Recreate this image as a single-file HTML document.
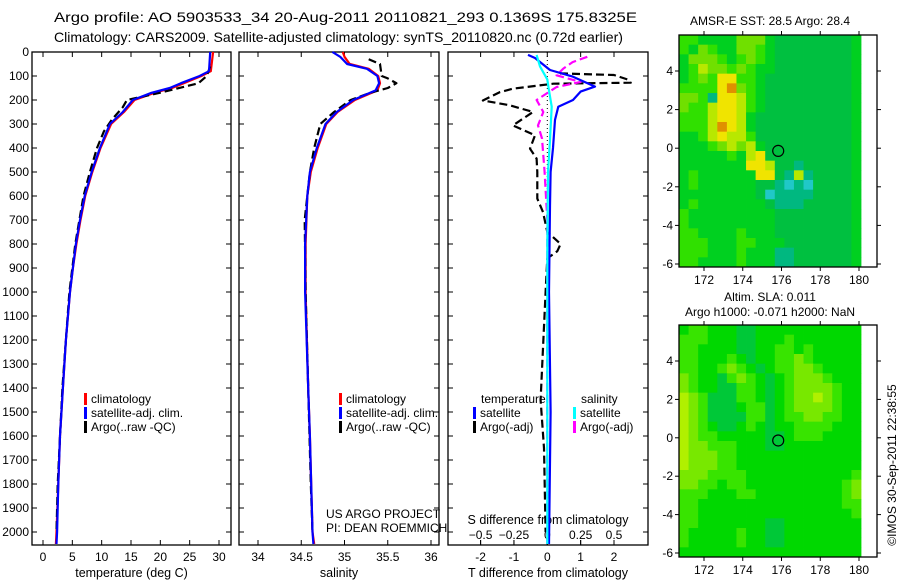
<!DOCTYPE html>
<html><head><meta charset="utf-8">
<style>
html,body{margin:0;padding:0;background:#fff;}
svg{display:block;font-family:"Liberation Sans",sans-serif;}
</style></head>
<body>
<svg id="fig" width="900" height="580" viewBox="0 0 900 580" xmlns="http://www.w3.org/2000/svg">
<text x="54" y="22" font-size="14" textLength="583" lengthAdjust="spacingAndGlyphs">Argo profile: AO 5903533_34 20-Aug-2011 20110821_293 0.1369S 175.8325E</text>
<text x="54" y="42" font-size="14" textLength="569" lengthAdjust="spacingAndGlyphs">Climatology: CARS2009. Satellite-adjusted climatology: synTS_20110820.nc (0.72d earlier)</text>
<g id="g"></g>
</svg>
<script>
// ---------- data ----------
const tDepth = [0,80,100,130,150,170,200,250,300,400,500,600,700,800,900,1000,1200,1400,1600,1800,2000,2050];
const tClim  = [29.0,28.6,27.0,24.0,22.0,19.0,15.6,13.8,11.6,9.8,8.4,7.2,6.4,5.7,5.1,4.6,3.9,3.4,2.9,2.6,2.3,2.2];
const tSat   = [28.5,28.3,26.7,23.5,21.6,18.5,15.3,13.6,11.4,9.7,8.3,7.1,6.3,5.6,5.1,4.6,3.9,3.4,2.9,2.6,2.4,2.3];
const tArgoDepth = [60,100,130,170,200,230,280,330,400,500,600,800,1000,1400,1800,2000];
const tArgo  = [28.5,27.9,26.5,19.9,14.3,13.6,11.8,10.4,9.2,8.0,6.9,5.5,4.5,3.3,2.5,2.3];

const sDepth = [0,20,50,70,100,130,160,200,250,300,400,500,600,800,1000,1400,1600,2000,2050];
const sClim  = [34.98,35.0,35.06,35.28,35.39,35.41,35.38,35.12,34.92,34.79,34.69,34.61,34.57,34.55,34.55,34.58,34.60,34.63,34.65];
const sSat   = [34.86,34.95,35.03,35.26,35.38,35.40,35.36,35.10,34.91,34.78,34.68,34.60,34.57,34.545,34.545,34.58,34.60,34.63,34.64];
const sArgoDepth = [30,50,100,110,130,150,170,200,250,300,400,500,700,1000,1400,1800,2000];
const sArgo  = [35.28,35.41,35.43,35.50,35.60,35.50,35.30,35.07,34.88,34.72,34.65,34.60,34.54,34.55,34.58,34.61,34.63];

const dTSatDepth = [12,25,75,103,144,165,200,228,283,400,500,640,1000,1500,2050];
const dTSat = [-0.58,-0.37,0.08,0.77,1.43,1.0,0.77,0.33,0.23,0.17,0.1,0.08,0.05,0.1,0.05];
const dSSatDepth = [12,60,114,150,228,367,500,800,2050];
const dSSat = [-0.08,-0.055,0,0.01,0.033,0.02,0.005,0,0];
const dTArgoDepth = [89,96,114,128,132,153,167,202,222,250,306,347,403,444,500,611,667,750,800,830,860,1000,1450,1650,2000];
const dTArgo = [0.38,2.0,2.4,2.5,0.18,-1.03,-1.42,-1.93,-1.12,-0.43,-1.03,-0.37,-0.52,-0.32,-0.3,-0.3,-0.13,0,0.4,0.3,0,-0.05,-0.2,-0.1,-0.05];
const dSArgoDepth = [20,42,69,97,125,146,200,250,306,360,430,500,700,2050];
const dSArgo = [0.3,0.19,0.12,0.07,0.25,0.07,-0.08,-0.03,-0.07,-0.04,-0.03,-0.02,0,0];

const depthTicks = [0,100,200,300,400,500,600,700,800,900,1000,1100,1200,1300,1400,1500,1600,1700,1800,1900,2000];
const tTicks = [0,5,10,15,20,25,30];
const sTicks = [34,34.5,35,35.5,36];
const dTTicks = [-2,-1,0,1,2];
const dSTicks = [-0.5,-0.25,0,0.25,0.5];
const lonTicks = [172,174,176,178,180];
const latTicks = [4,2,0,-2,-4,-6];

const sstRows = [
"4433335553222222223","4354335543222222223","3555434543222222223","3465545433222222223",
"3454774432222222223","4444785432222222223","5541776432222222223","5446776432222222223",
"4446776322222222223","4446876322222222223","3346766422222222223","3334565632222222223",
"3333343672222222223","3333333776221222223","3433333377216122223","3433333322101022223",
"3333333320111122223","3433333332111222223","4333333333222222223","4333333333222222223",
"4433334333222222223","4443334433322222223","4443334333112222223","4433334333112222223"];
const slaRows = [
"3443332233333333333","4443332233343333333","4433332233443433333","4433343233445433333",
"4433454323445543333","5433245432345554333","5433224432345555433","6542224432345565433",
"6542223442345555433","6542222442344554433","6543223432334444333","6544333332234443333",
"6554443332233333333","6555443333333333333","6555443333333333333","5554444333333333334",
"5544344333333333345","4443334433333333345","4433333333333333344","4433333333333333334",
"4433333332233333333","4333334332233333333","4333334332233333333","3333333333333333333"];
const sstColors = ["#20c8c8","#00b880","#00c040","#00d020","#30e000","#70e000","#b8e800","#f0e400","#e09000"];
const slaColors = ["#00c040","#00c040","#00c838","#00d800","#38e400","#78e800","#b0f000"];
const argoLon = 175.83, argoLat = -0.14;

// ---------- helpers ----------
const NS="http://www.w3.org/2000/svg";
const G=document.getElementById('g');
function el(tag, attrs, parent){const e=document.createElementNS(NS,tag);for(const k in attrs)e.setAttribute(k,attrs[k]);(parent||G).appendChild(e);return e;}
function lin(d0,d1,r0,r1){return v=>r0+(v-d0)*(r1-r0)/(d1-d0);}
const PT=52, PB=545;
const yD = lin(0,2000,52,532);

function panel(name,x0,x1,xs,ticks,tickFmt,bottomLabel){
  const b=el('rect',{x:x0,y:PT,width:x1-x0,height:PB-PT,fill:'none',stroke:'#000','stroke-width':1.3});
  
  
  depthTicks.forEach(d=>{
    const y=yD(d);
    el('line',{x1:x0,x2:x0+5,y1:y,y2:y,stroke:'#000'});
    el('line',{x1:x1-5,x2:x1,y1:y,y2:y,stroke:'#000'});
  });
  ticks.forEach(t=>{
    const x=xs(t);
    el('line',{x1:x,x2:x,y1:PT,y2:PT+5,stroke:'#000'});
    el('line',{x1:x,x2:x,y1:PB-5,y2:PB,stroke:'#000'});
    const tx=el('text',{x:x,y:561,'font-size':12,'text-anchor':'middle'});
    tx.textContent=tickFmt(t);
    
    
  });
  const lab=el('text',{x:(x0+x1)/2,y:577,'font-size':12.5,'text-anchor':'middle'});
  lab.textContent=bottomLabel;
  
  
}
function series(name,xs,depths,vals,color,dash){
  const pts=vals.map((v,i)=>xs(v).toFixed(1)+','+yD(depths[i]).toFixed(1)).join(' ');
  const p=el('polyline',{points:pts,fill:'none',stroke:color,'stroke-width':2.2,'stroke-dasharray':dash||'none','stroke-linejoin':'round'});
  
  
}
function legend(x,y,color,label,name){
  const r=el('rect',{x:x,y:y-10,width:3,height:12,fill:color});
  
  
  const t=el('text',{x:x+7,y:y,'font-size':12});
  t.textContent=label;
  
  
}

// ---------- panel 1: temperature ----------
const xT = lin(0,30,43,219);
depthTicks.forEach(d=>{
  const t=el('text',{x:29,y:yD(d)+4,'font-size':12,'text-anchor':'end'});
  t.textContent=d;
  
  
});
panel('temperature-panel',32,231,xT,tTicks,v=>v,'temperature (deg C)');
series('temperature-climatology-line',xT,tDepth,tClim,'#ff0000');
series('temperature-argo-line',xT,tArgoDepth,tArgo,'#000','8,4');
series('temperature-satellite-line',xT,tDepth,tSat,'#0000ff');
legend(84,403,'#ff0000','climatology','legend-climatology');
legend(84,417,'#0000ff','satellite-adj. clim.','legend-satellite-adj');
legend(84,431,'#000','Argo(..raw -QC)','legend-argo');

// ---------- panel 2: salinity ----------
const xS = lin(34,36,258,431);
panel('salinity-panel',239,439,xS,sTicks,v=>v,'salinity');
series('salinity-climatology-line',xS,sDepth,sClim,'#ff0000');
series('salinity-argo-line',xS,sArgoDepth,sArgo,'#000','8,4');
series('salinity-satellite-line',xS,sDepth,sSat,'#0000ff');
legend(339,403,'#ff0000','climatology','legend-climatology-2');
legend(339,417,'#0000ff','satellite-adj. clim.','legend-satellite-adj-2');
legend(339,431,'#000','Argo(..raw -QC)','legend-argo-2');
const us=el('text',{x:326,y:518,'font-size':12});us.textContent='US ARGO PROJECT';


const pi=el('text',{x:326,y:532,'font-size':12});pi.textContent='PI: DEAN ROEMMICH';



// ---------- panel 3: differences ----------
const xDT = lin(0,2,547.3,614);
const xDS = v=>xDT(v*4);
panel('difference-panel',448,648,xDT,dTTicks,v=>v,'T difference from climatology');
el('line',{x1:xDT(0),x2:xDT(0),y1:PT,y2:PB,stroke:'#000','stroke-dasharray':'1,3'});
dSTicks.forEach(t=>{
  const x=xDS(t);
  el('line',{x1:x,x2:x,y1:PB-5,y2:PB,stroke:'#000'});
  const tx=el('text',{x:x,y:539,'font-size':12,'text-anchor':'middle'});
  tx.textContent=(t<0?'\u2212':'')+Math.abs(t);
  
  
});
const sdl=el('text',{x:548,y:524,'font-size':12.5,'text-anchor':'middle'});sdl.textContent='S difference from climatology';


series('t-diff-argo-line',xDT,dTArgoDepth,dTArgo,'#000','8,4');
series('s-diff-argo-line',xDS,dSArgoDepth,dSArgo,'#ff00ff','8,4');
series('t-diff-satellite-line',xDT,dTSatDepth,dTSat,'#0000ff');
series('s-diff-satellite-line',xDS,dSSatDepth,dSSat,'#00ffff');
const lt=el('text',{x:481,y:403,'font-size':12});lt.textContent='temperature';


const ls=el('text',{x:581,y:403,'font-size':12});ls.textContent='salinity';


legend(473,417,'#0000ff','satellite','legend-t-satellite');
legend(473,431,'#000','Argo(-adj)','legend-t-argo');
legend(573,417,'#00ffff','satellite','legend-s-satellite');
legend(573,431,'#ff00ff','Argo(-adj)','legend-s-argo');

// ---------- maps ----------
function map(name,rows,colors,top,bottom,lat4y,latm6y){
  const xL=lin(172,180,704,859);
  const yL=lin(4,-6,lat4y,latm6y);
  const x0=679,x1=877,dataR=861;
  const nc=rows[0].length,nr=rows.length;
  const cw=(dataR-x0)/nc,ch=(bottom-top)/nr;
  rows.forEach((r,i)=>{
    for(let j=0;j<nc;j++){
      const c=el('rect',{x:(x0+j*cw).toFixed(2),y:(top+i*ch).toFixed(2),width:(cw+0.4).toFixed(2),height:(ch+0.4).toFixed(2),fill:colors[+r[j]]});
      
      
    }
  });
  const f=el('rect',{x:x0,y:top,width:x1-x0,height:bottom-top,fill:'none',stroke:'#000','stroke-width':1.3});
  
  
  lonTicks.forEach(l=>{
    const x=xL(l);
    el('line',{x1:x,x2:x,y1:top-4,y2:top,stroke:'#000'});
    el('line',{x1:x,x2:x,y1:bottom,y2:bottom+4,stroke:'#000'});
    const t=el('text',{x:x,y:bottom+17,'font-size':12,'text-anchor':'middle'});
    t.textContent=l;
    
    
  });
  latTicks.forEach(l=>{
    const y=yL(l);
    el('line',{x1:x0-4,x2:x0,y1:y,y2:y,stroke:'#000'});
    el('line',{x1:x1,x2:x1+4,y1:y,y2:y,stroke:'#000'});
    const t=el('text',{x:673,y:y+4,'font-size':12,'text-anchor':'end'});
    t.textContent=l;
    
    
  });
  const c=el('circle',{cx:xL(argoLon),cy:yL(argoLat),r:5.5,fill:'none',stroke:'#000','stroke-width':1.2});
  
  
}
map('sst-map',sstRows,sstColors,35,267,71,264);
map('sla-map',slaRows,slaColors,325,557,361,553);
const m1=el('text',{x:770,y:25,'font-size':12,'text-anchor':'middle'});m1.textContent='AMSR-E SST: 28.5 Argo: 28.4';


const m2=el('text',{x:770,y:301,'font-size':12,'text-anchor':'middle'});m2.textContent='Altim. SLA: 0.011';


const m3=el('text',{x:770,y:316,'font-size':12,'text-anchor':'middle'});m3.textContent='Argo h1000: -0.071 h2000: NaN';


const cr=el('text',{x:0,y:0,'font-size':12,'text-anchor':'middle',transform:'translate(896,465) rotate(-90)'});
cr.textContent='\u00a9IMOS 30-Sep-2011 22:38:55';


</script>
</body></html>
